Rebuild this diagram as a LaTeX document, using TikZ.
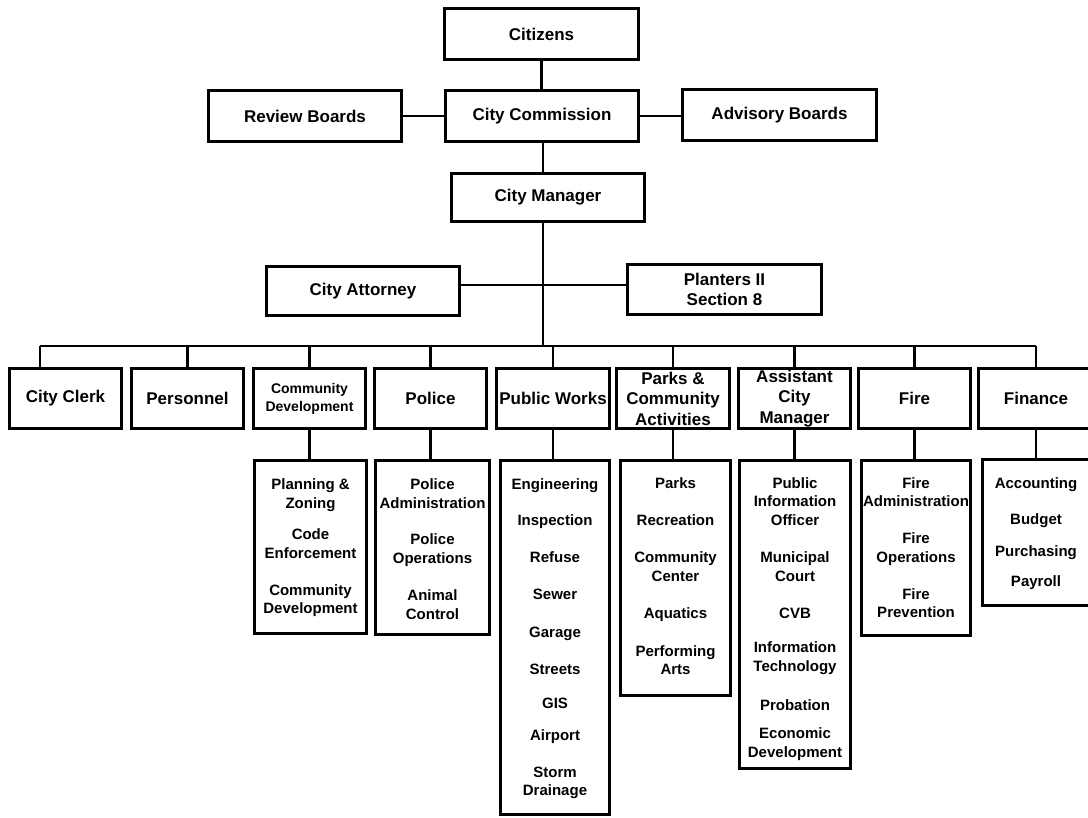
\documentclass[tikz,border=0pt]{standalone}
\usepackage{fontspec}
\setmainfont{Liberation Sans}
\newcommand\orgbox[7][]{\node[box,#1,minimum width={#4-#3-3},minimum height={#6-#5-3}] (#2) at ({(#3+#4)/2},{(#5+#6)/2}) {#7};}
\newcommand\itemlist[3]{\foreach \yy/\lbl [count=\i] in {#3} {\node[item] (#1-\i) at (#2,\yy+5.5) {\lbl};}}
\begin{document}
\begin{tikzpicture}[x=1pt,y=-1pt,
  box/.style={draw,line width=3pt,inner sep=0pt,align=center,font=\bfseries\fontsize{17}{20.5}\selectfont},
  item/.style={anchor=base,inner sep=0pt,font=\bfseries\fontsize{15}{19}\selectfont},
  link/.style={line width=2.4pt}]
\useasboundingbox (0,0) rectangle (1088,818);
\fill[white] (0,0) rectangle (1088,818);
\clip (0,0) rectangle (1088,818);
% top levels
\orgbox{citizens}{443}{640}{7}{61}{Citizens}
\orgbox{commission}{444}{640}{89}{143}{City Commission}
\orgbox{review}{207}{403}{89}{143}{Review Boards}
\orgbox{advisory}{681}{878}{88}{142}{Advisory Boards}
\orgbox{manager}{450}{646}{172}{223}{City Manager}
\orgbox{attorney}{265}{461}{265}{317}{City Attorney}
\orgbox{planters}{626}{823}{263}{316}{Planters II\\Section 8}
% departments
\orgbox{clerk}{8}{123}{367}{430}{City Clerk}
\orgbox{personnel}{130}{245}{367}{430}{Personnel}
\orgbox[font=\bfseries\fontsize{14}{18}\selectfont]{cd}{252}{367}{367}{430}{Community\\Development}
\orgbox{police}{373}{488}{367}{430}{Police}
\orgbox{pw}{495}{611}{367}{430}{Public Works}
\orgbox{parks}{615}{731}{367}{430}{Parks \&\\Community\\Activities}
\orgbox{asst}{737}{852}{367}{430}{Assistant\\City\\Manager}
\orgbox{fire}{857}{972}{367}{430}{Fire}
\orgbox{finance}{977}{1095}{367}{430}{Finance}
% sub boxes
\orgbox{cd-sub}{253}{368}{459}{635}{}
\orgbox{police-sub}{374}{491}{459}{636}{}
\orgbox{pw-sub}{499}{611}{459}{816}{}
\orgbox{parks-sub}{619}{732}{459}{697}{}
\orgbox{asst-sub}{738}{852}{459}{770}{}
\orgbox{fire-sub}{860}{972}{459}{637}{}
\orgbox{finance-sub}{981}{1091}{458}{607}{}
% items
\itemlist{cdi}{310.5}{484/Planning \&,503/Zoning,534/Code,553/Enforcement,590/Community,608/Development}
\itemlist{poi}{432.5}{484/Police,503/Administration,539/Police,558/Operations,595/Animal,614/Control}
\itemlist{pwi}{555}{484/Engineering,520/Inspection,557/Refuse,594/Sewer,632/Garage,669/Streets,703/GIS,735/Airport,772/Storm,790/Drainage}
\itemlist{pai}{675.5}{483/Parks,520/Recreation,557/Community,576/Center,613/Aquatics,651/Performing,669/Arts}
\itemlist{asi}{795}{483/Public,501/Information,520/Officer,557/Municipal,576/Court,613/CVB,647/Information,666/Technology,705/Probation,733/Economic,752/Development}
\itemlist{fii}{916}{483/Fire,501/Administration,538/Fire,557/Operations,594/Fire,612/Prevention}
\itemlist{fni}{1036}{483/Accounting,519/Budget,551/Purchasing,581/Payroll}
% connectors
\coordinate (trunk) at (543,0);
\coordinate (mid) at (543,285);
\coordinate (busL) at (40,346);
\coordinate (busR) at (1036,346);
\coordinate (bus) at (543,346);
\draw[link] (citizens.south) -- (citizens.south |- commission.north);
\draw[link] (review.east) -- (review.east -| commission.west);
\draw[link] (commission.east) -- (commission.east -| advisory.west);
\draw[link] (commission.south -| trunk) -- (manager.north -| trunk);
\draw[link] (manager.south -| trunk) -- (bus);
\draw[link] (attorney.east |- mid) -- (planters.west |- mid);
\draw[link] (busL) -- (busR);
\draw[link] (busL) -- (busL |- clerk.north);
\foreach \n in {personnel,cd,police,pw,parks,asst,fire,finance}
  \draw[link] (\n.north) -- (\n.north |- busL);
\foreach \n in {cd,police,pw,parks,asst,fire,finance}
  \draw[link] (\n.south) -- (\n.south |- \n-sub.north);
\end{tikzpicture}
\end{document}
